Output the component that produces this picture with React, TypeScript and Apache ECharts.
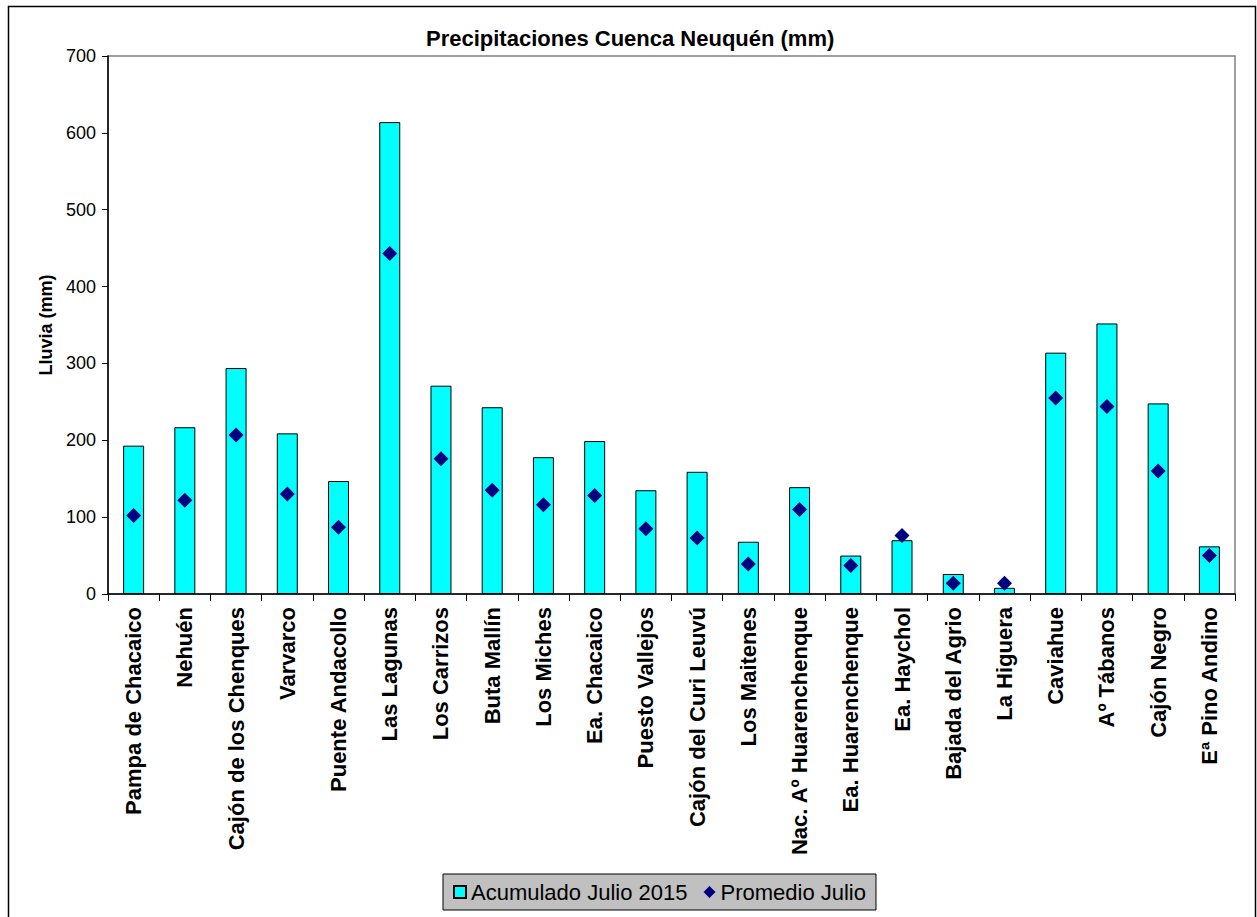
import React, { useEffect, useRef } from "react";
import * as echarts from "echarts";

// Stations of the Neuquén basin
const estaciones = [
  "Pampa de Chacaico",
  "Nehuén",
  "Cajón de los Chenques",
  "Varvarco",
  "Puente Andacollo",
  "Las Lagunas",
  "Los Carrizos",
  "Buta Mallín",
  "Los Miches",
  "Ea. Chacaico",
  "Puesto Vallejos",
  "Cajón del Curi Leuvú",
  "Los Maitenes",
  "Nac. Aº Huarenchenque",
  "Ea. Huarenchenque",
  "Ea. Haychol",
  "Bajada del Agrio",
  "La Higuera",
  "Caviahue",
  "Aº Tábanos",
  "Cajón Negro",
  "Eª Pino Andino",
];

// Accumulated rainfall, July 2015 (mm)
const acumuladoJulio2015 = [
  193, 217, 294, 209, 147, 614, 271, 243, 178, 199, 135, 159, 68, 139, 50, 70,
  26, 8, 314, 352, 248, 62,
];

// July average rainfall (mm)
const promedioJulio = [
  102, 122, 207, 130, 87, 443, 176, 135, 116, 128, 85, 73, 39, 110, 37, 76, 14,
  14, 255, 244, 160, 50,
];

const FONT = "'Liberation Sans', Arial, Helvetica, sans-serif";

export default function App() {
  const ref = useRef<HTMLDivElement>(null);

  useEffect(() => {
    if (!ref.current) return;
    const chart = echarts.init(ref.current, null, { renderer: "svg" });
    chart.setOption({
      animation: false,
      backgroundColor: "#ffffff",
      textStyle: { fontFamily: FONT },
      title: {
        text: "Precipitaciones Cuenca Neuquén (mm)",
        left: 426,
        top: 27,
        padding: 0,
        textStyle: {
          fontFamily: FONT,
          fontSize: 22,
          fontWeight: "bold",
          color: "#000",
        },
      },
      graphic: [
        {
          type: "rect",
          shape: { x: 8.5, y: 6.5, width: 1247, height: 930 },
          style: { fill: "none", stroke: "#000", lineWidth: 1.5 },
          silent: true,
          z: 100,
        },
      ],
      grid: {
        left: 108,
        right: 22,
        top: 56,
        bottom: 323,
        show: true,
        borderColor: "#808080",
        borderWidth: 1.5,
        backgroundColor: "#fff",
      },
      legend: {
        left: 443,
        top: 874,
        orient: "horizontal",
        backgroundColor: "#c0c0c0",
        borderColor: "#000",
        borderWidth: 1,
        padding: [7, 10, 7, 10],
        itemWidth: 12,
        itemHeight: 12,
        itemGap: 16,
        textStyle: { fontFamily: FONT, fontSize: 22, color: "#000" },
        data: [
          { name: "Acumulado Julio 2015", icon: "rect" },
          { name: "Promedio Julio", icon: "diamond" },
        ],
      },
      xAxis: {
        type: "category",
        data: estaciones,
        axisLine: { lineStyle: { color: "#000", width: 1.5 } },
        axisTick: {
          show: true,
          length: 7,
          alignWithLabel: false,
          lineStyle: { color: "#000" },
        },
        axisLabel: {
          interval: 0,
          rotate: 90,
          margin: 13,
          fontFamily: FONT,
          fontSize: 22,
          fontWeight: "bold",
          color: "#000",
        },
      },
      yAxis: {
        type: "value",
        min: 0,
        max: 700,
        interval: 100,
        name: "Lluvia (mm)",
        nameLocation: "middle",
        nameRotate: 90,
        nameGap: 52,
        nameTextStyle: {
          fontFamily: FONT,
          fontSize: 18,
          fontWeight: "bold",
          color: "#000",
        },
        axisLine: { show: true, lineStyle: { color: "#000", width: 1.5 } },
        axisTick: { show: true, length: 6, lineStyle: { color: "#000" } },
        axisLabel: {
          margin: 12,
          fontFamily: FONT,
          fontSize: 18,
          color: "#000",
        },
        splitLine: { show: false },
      },
      series: [
        {
          name: "Acumulado Julio 2015",
          type: "bar",
          data: acumuladoJulio2015,
          barWidth: 21,
          itemStyle: { color: "#00ffff", borderColor: "#000", borderWidth: 1 },
          z: 2,
        },
        {
          name: "Promedio Julio",
          type: "scatter",
          data: promedioJulio,
          symbol: "diamond",
          symbolSize: 15,
          itemStyle: { color: "#000080", opacity: 1 },
          z: 3,
        },
      ],
    });
    return () => chart.dispose();
  }, []);

  return (
    <div
      ref={ref}
      style={{
        position: "absolute",
        left: 0,
        top: 0,
        width: 1257,
        height: 917,
      }}
    />
  );
}
